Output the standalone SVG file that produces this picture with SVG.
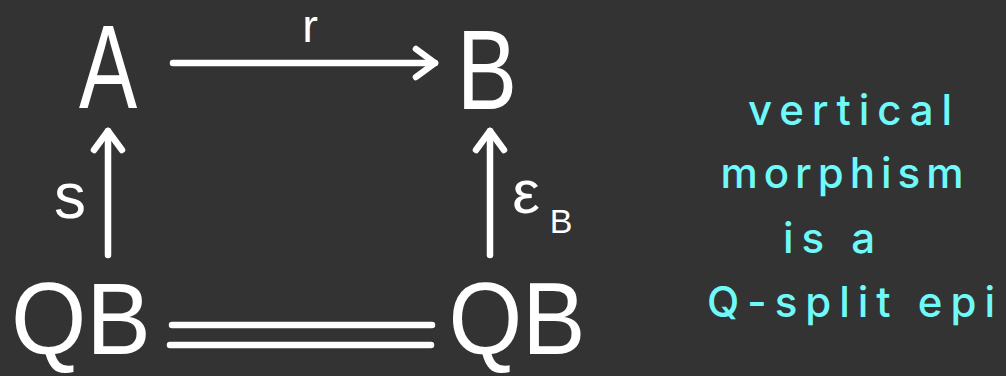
<svg xmlns="http://www.w3.org/2000/svg" width="1006" height="376" viewBox="0 0 1006 376">
<style>
.obj{font-family:"Liberation Sans",Arial,sans-serif;font-weight:400;fill:#ffffff;text-anchor:middle}
.lbl{font-family:"Liberation Sans",Arial,sans-serif;font-weight:400;fill:#ffffff;text-anchor:middle}
.note{font-family:Inter,"Liberation Sans",sans-serif;font-weight:500;fill:#6ff9f9;text-anchor:middle;font-size:42px}
.edge{fill:none;stroke:#ffffff;stroke-width:6.5;stroke-linecap:round;stroke-linejoin:round}
</style>
<defs>
<marker id="ah" viewBox="0 0 40 40" refX="20" refY="20" markerWidth="40" markerHeight="40" markerUnits="userSpaceOnUse" orient="auto" overflow="visible">
<path d="M1,6 L20,20 L1,34" fill="none" stroke="#ffffff" stroke-width="6.5" stroke-linecap="round" stroke-linejoin="round"/>
</marker>
</defs>
<rect x="0" y="0" width="1006" height="376" fill="#333333"/>
<g id="node-A"><text class="obj" transform="translate(108,108) scale(0.74,1)" x="0" y="0" font-size="118">A</text></g>
<g id="node-B"><text class="obj" transform="translate(487,109) scale(0.8,1)" x="0" y="0" font-size="113">B</text></g>
<g id="node-QB-left"><text class="obj" transform="translate(81,354) scale(0.95,1)" x="0" y="0" font-size="102">QB</text></g>
<g id="node-QB-right"><text class="obj" transform="translate(517,354) scale(0.93,1)" x="0" y="0" font-size="102">QB</text></g>
<g id="connectors">
<path class="edge" d="M173,63 L435,63" marker-end="url(#ah)"/>
<path class="edge" d="M108,255 L108,131" marker-end="url(#ah)"/>
<path class="edge" d="M490,255 L490,131" marker-end="url(#ah)"/>
<path class="edge" d="M172,325 L432,325"/>
<path class="edge" d="M170,345 L431,345"/>
<text class="lbl" x="310" y="42" font-size="47">r</text>
<text class="lbl" x="70" y="218" font-size="64">s</text>
<text class="lbl" x="526" y="213" font-size="62">ε</text>
<text class="lbl" x="561" y="233" font-size="34">B</text>
</g>
<g id="note">
<text class="note" x="850" y="125" textLength="204" lengthAdjust="spacing">vertical</text>
<text class="note" x="842" y="188" textLength="243" lengthAdjust="spacing">morphism</text>
<text class="note" x="829" y="253" textLength="92" lengthAdjust="spacing">is a</text>
<text class="note" x="851" y="317" textLength="288" lengthAdjust="spacing">Q-split epi</text>
</g>
</svg>
